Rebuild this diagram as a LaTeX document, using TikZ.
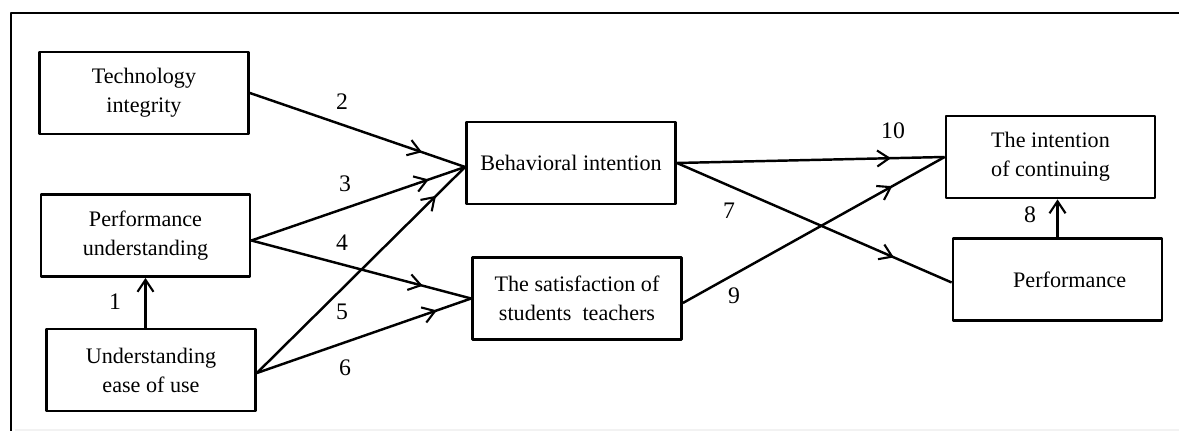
\documentclass[tikz,border=0pt]{standalone}
\usepackage{fontspec}
\setmainfont{Liberation Serif}
\usetikzlibrary{arrows.meta, decorations.markings}

\tikzset{
  box/.style={draw, line width=1.6pt, minimum width=4.18cm, minimum height=1.64cm,
              align=center, font=\fontsize{12.6}{16.5}\selectfont},
  num/.style={font=\fontsize{13.5}{15}\selectfont},
  flow/.style={line width=1.4pt, postaction={decorate},
    decoration={markings, mark=at position #1 with {\arrow{Straight Barb[length=2.4mm, width=3.2mm, line width=1.2pt]}}}},
  flow/.default=0.8,
  up/.style={line width=1.4pt, -{Straight Barb[length=2.4mm, width=3.2mm, line width=1.2pt]}}
}

\begin{document}
\begin{tikzpicture}[x=0.02cm, y=-0.02cm, line join=bevel]
  \useasboundingbox (0,0) rectangle (1179,431);
  % frame
  \draw[line width=1.5pt] (1179,13) -- (11,13) -- (11,431);
  \draw[black!5, line width=0.8pt] (15,430) -- (1179,430);
  %
  \node[box] (tech) at (144,93) {Technology\\integrity};
  \node[box] (pu) at (145.5,235.5) {Performance\\understanding};
  \node[box] (ueu) at (151,370) {Understanding\\ease of use};
  \node[box] (bi) at (571,163) {Behavioral intention};
  \node[box] (sat) at (577,298.5) {The satisfaction of\\students\ \ teachers};
  \node[box] (ioc) at (1050.5,157) {The intention\\of continuing};
  \node[box] (perf) at (1057.5,279.5) {\hspace{1.1em}Performance};
  %
  \draw[up] (pu.south |- ueu.north) -- (pu.south);
  \draw[flow] (tech.east) -- ([yshift=-0.08cm]bi.west);
  \draw[flow=0.83] ([yshift=-0.1cm]pu.east) -- ([yshift=-0.08cm]bi.west);
  \draw[flow=0.78] ([yshift=-0.1cm]pu.east) -- (sat.west);
  \draw[flow=0.86] ([yshift=-0.06cm]ueu.east) -- ([yshift=-0.08cm]bi.west);
  \draw[flow=0.84] ([yshift=-0.06cm]ueu.east) -- (sat.west);
  \draw[flow] (bi.east) -- (ioc.west);
  \draw[flow=0.79] (bi.east) -- ([yshift=-0.06cm]perf.west);
  \draw[flow] ([yshift=-0.09cm]sat.east) -- (ioc.west);
  \draw[up] (perf.north) -- (perf.north |- ioc.south);
  %
  \node[num] (n1) at (115,302) {1};
  \node[num] (n2) at (342,102) {2};
  \node[num] (n3) at (345,184) {3};
  \node[num] (n4) at (342,243) {4};
  \node[num] (n5) at (342,312) {5};
  \node[num] (n6) at (345,368) {6};
  \node[num] (n7) at (729,211) {7};
  \node[num] (n8) at (1030,215) {8};
  \node[num] (n9) at (734,296) {9};
  \node[num] (n10) at (893,131) {10};
\end{tikzpicture}
\end{document}
